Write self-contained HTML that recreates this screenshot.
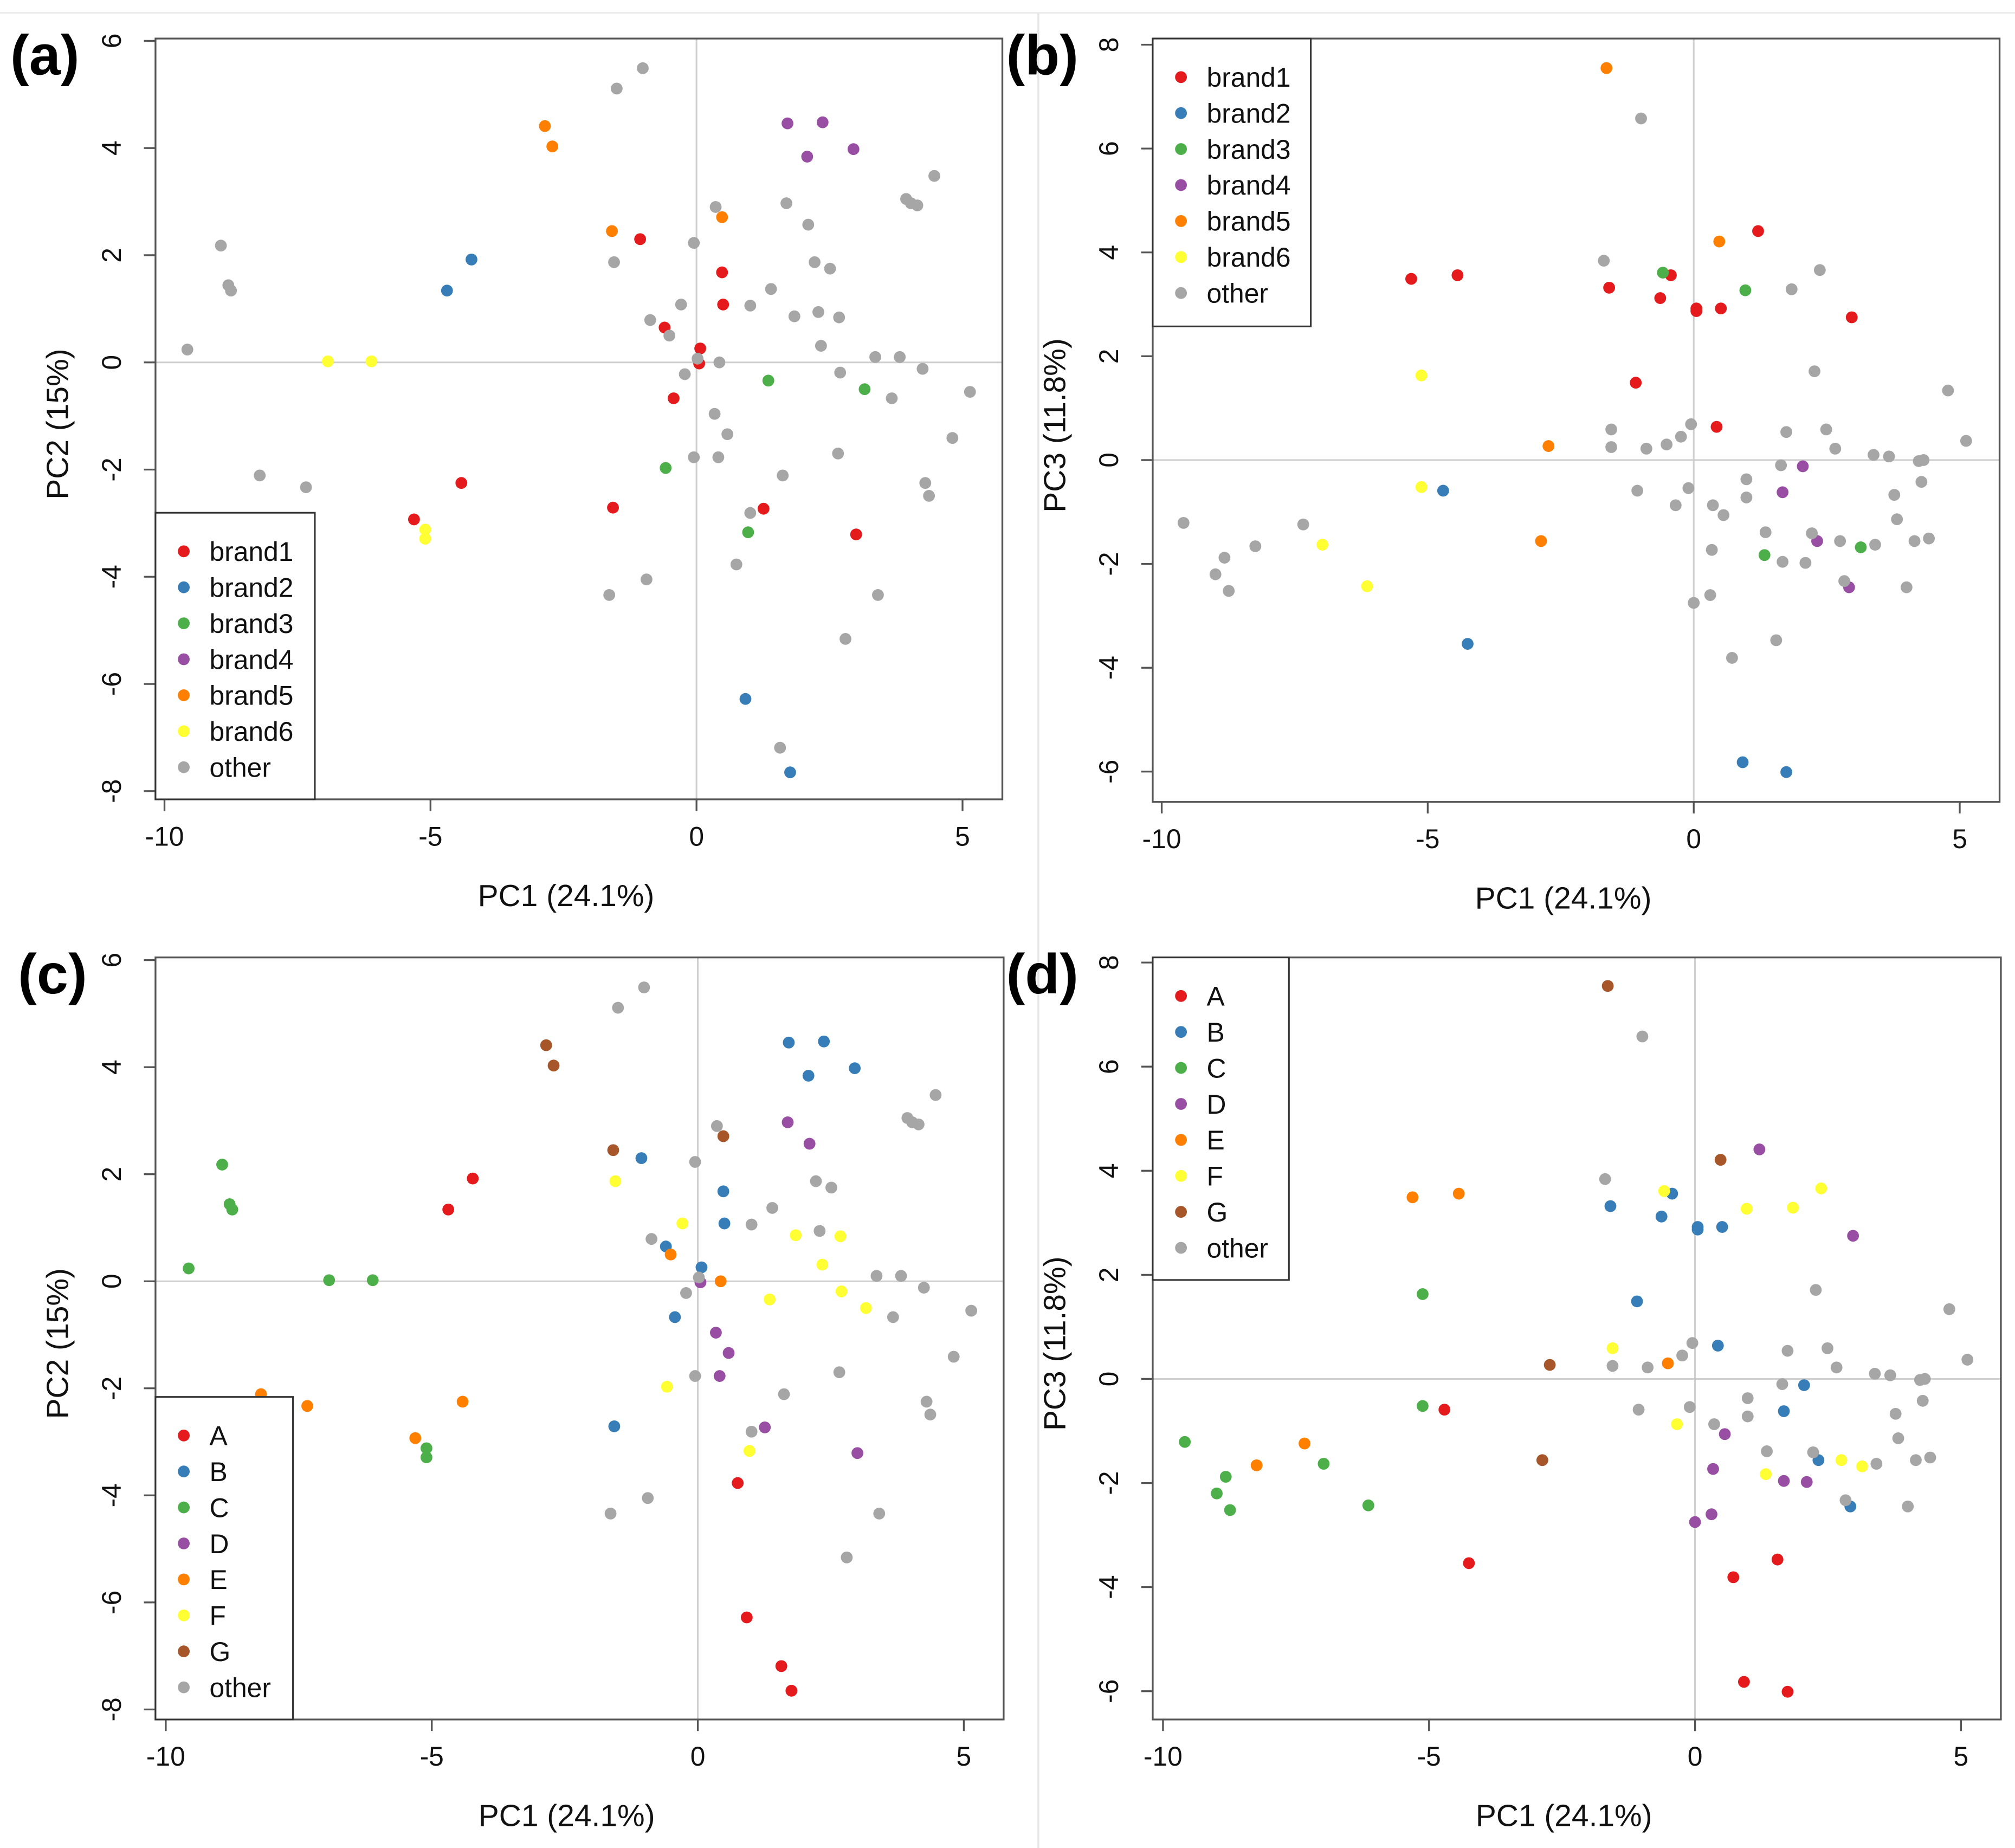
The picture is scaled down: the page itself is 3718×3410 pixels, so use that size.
<!DOCTYPE html>
<html><head><meta charset="utf-8">
<style>
html,body{margin:0;padding:0;background:#fff;}
svg{display:block;font-family:"Liberation Sans",Arial,sans-serif;}
</style></head>
<body>
<svg id="fig" width="3718" height="3410" viewBox="0 0 1568 1438" preserveAspectRatio="none" xmlns="http://www.w3.org/2000/svg">
<rect x="0" y="0" width="1568" height="1438" fill="#fff"/>
<line x1="0" y1="10" x2="1568" y2="10" stroke="#e6e6e6" stroke-width="1"/>
<line x1="808" y1="10" x2="808" y2="1438" stroke="#e6e6e6" stroke-width="1.5"/>
</svg>
<script>
// Panels (a)/(c): PC1 vs PC2 ; brand group and letter group per sample
const pc1A = [-0.6,0.07,0.48,0.5,-1.06,-0.43,-1.57,-4.42,-5.31,1.26,3.0,0.05,
 -4.69,-4.23,0.92,1.76, 1.35,3.16,-0.58,0.97, 1.71,2.37,2.08,2.95, -2.85,-2.71,-1.59,0.48,
 -6.93,-6.11,-5.1,-5.1,
 -9.57,-8.94,-8.8,-8.75,-8.21,-7.34,-1.5,-1.01,-1.55,-0.05,0.36,1.69,2.1,2.22,2.51,1.4,1.84,2.29,2.68,2.34,
 -0.29,-0.51,-0.87,1.01,0.02,0.43,-0.22,0.34,0.58,-0.05,0.41,1.62,2.66,2.7,3.36,3.82,3.67,4.25,3.94,4.03,4.15,4.47,
 5.14,4.81,4.3,4.37,1.01,0.75,-0.94,-1.64,3.41,2.8,1.57];
const pc2A = [0.65,0.26,1.68,1.08,2.3,-0.67,-2.71,-2.25,-2.93,-2.73,-3.21,-0.02,
 1.34,1.92,-6.28,-7.65, -0.34,-0.5,-1.97,-3.17, 4.46,4.48,3.84,3.98, 4.41,4.03,2.45,2.71,
 0.02,0.02,-3.12,-3.29,
 0.24,2.18,1.44,1.34,-2.11,-2.33,5.11,5.49,1.87,2.23,2.9,2.97,2.57,1.87,1.75,1.37,0.86,0.94,0.84,0.31,
 1.08,0.5,0.79,1.06,0.07,0,-0.22,-0.96,-1.34,-1.77,-1.77,-2.11,-1.7,-0.19,0.1,0.1,-0.67,-0.12,3.05,2.97,2.93,3.48,
 -0.55,-1.41,-2.25,-2.49,-2.81,-3.77,-4.05,-4.34,-4.34,-5.16,-7.19];
const brandA = ["brand1","brand1","brand1","brand1","brand1","brand1","brand1","brand1","brand1","brand1","brand1","brand1",
 "brand2","brand2","brand2","brand2","brand3","brand3","brand3","brand3","brand4","brand4","brand4","brand4",
 "brand5","brand5","brand5","brand5","brand6","brand6","brand6","brand6",
 "other","other","other","other","other","other","other","other","other","other","other","other","other","other","other","other","other","other","other","other",
 "other","other","other","other","other","other","other","other","other","other","other","other","other","other","other","other","other","other","other","other","other","other",
 "other","other","other","other","other","other","other","other","other","other","other"];
const letterA = ["B","B","B","B","B","B","B","E","E","D","D","D",
 "A","A","A","A","F","F","F","F","B","B","B","B","G","G","G","G","C","C","C","C",
 "C","C","C","C","E","E","other","other","F","other","other","D","D","other","other","other","F","other","F","F",
 "F","E","other","other","other","E","other","D","D","other","D","other","other","F","other","other","other","other","other","other","other","other",
 "other","other","other","other","other","A","other","other","other","other","A"];

// Panels (b)/(d): PC1 vs PC3
const pc1B = [-5.31,-4.44,-1.59,-0.63,-0.43,0.05,0.05,0.51,1.21,2.97,-1.09,0.43,
 -4.71,-4.25,0.92,1.74, -0.58,0.97,1.33,3.14, 1.67,2.32,2.92,2.05, -1.64,0.48,-2.73,-2.87,
 -5.12,-5.12,-6.98,-6.14,
 -0.99,-1.69,2.37,1.84,2.27,-1.55,-1.55,-0.89,-0.51,-0.05,-0.24,1.74,2.49,2.66,1.64,0.99,0.99,-0.1,-0.34,-1.06,0.36,0.56,0.34,
 1.35,2.22,1.67,2.1,0.31,0,0.72,1.55,2.75,2.83,3.41,3.82,3.77,3.38,3.67,4.23,4.32,4.28,4.15,4.42,4.0,4.78,5.12,
 -9.59,-8.82,-8.99,-8.74,-8.24,-7.34];
const pc3B = [3.49,3.56,3.32,3.12,3.56,2.92,2.87,2.92,4.41,2.75,1.49,0.64,
 -0.59,-3.54,-5.82,-6.01, 3.61,3.27,-1.83,-1.68, -0.62,-1.56,-2.45,-0.12, 7.55,4.21,0.27,-1.56,
 1.63,-0.52,-1.63,-2.43,
 6.58,3.84,3.66,3.29,1.71,0.59,0.25,0.22,0.3,0.69,0.45,0.54,0.59,0.22,-0.1,-0.37,-0.72,-0.54,-0.87,-0.59,-0.87,-1.06,-1.73,
 -1.39,-1.41,-1.96,-1.98,-2.6,-2.75,-3.81,-3.47,-1.56,-2.33,-1.63,-1.14,-0.67,0.1,0.07,-0.02,0,-0.42,-1.56,-1.51,-2.45,1.34,0.37,
 -1.21,-1.88,-2.2,-2.52,-1.66,-1.24];
const brandB = ["brand1","brand1","brand1","brand1","brand1","brand1","brand1","brand1","brand1","brand1","brand1","brand1",
 "brand2","brand2","brand2","brand2","brand3","brand3","brand3","brand3","brand4","brand4","brand4","brand4",
 "brand5","brand5","brand5","brand5","brand6","brand6","brand6","brand6",
 "other","other","other","other","other","other","other","other","other","other","other","other","other","other","other","other","other","other","other","other","other","other","other",
 "other","other","other","other","other","other","other","other","other","other","other","other","other","other","other","other","other","other","other","other","other","other","other",
 "other","other","other","other","other","other"];
const letterB = ["E","E","B","B","B","B","B","B","D","D","B","B",
 "A","A","A","A","F","F","F","F","B","B","B","B","G","G","G","G","C","C","C","C",
 "other","other","F","F","other","F","other","other","E","other","other","other","other","other","other","other","other","other","F","other","other","D","D",
 "other","other","D","D","D","D","A","A","F","other","other","other","other","other","other","other","other","other","other","other","other","other","other",
 "C","C","C","C","E","E"];

const brandKeys = ["brand1","brand2","brand3","brand4","brand5","brand6","other"];
const letterKeys = ["A","B","C","D","E","F","G","other"];
const xTicks = [-10,-5,0,5];
const yTicksA = [-8,-6,-4,-2,0,2,4,6];
const yTicksB = [-6,-4,-2,0,2,4,6,8];

const COL = {brand1:"#E41A1C",brand2:"#377EB8",brand3:"#4DAF4A",brand4:"#984EA3",brand5:"#FF7F00",brand6:"#FFFF33",
 A:"#E41A1C",B:"#377EB8",C:"#4DAF4A",D:"#984EA3",E:"#FF7F00",F:"#FFFF33",G:"#A65628",other:"#A6A6A6"};

const NS="http://www.w3.org/2000/svg";
const svg=document.getElementById('fig');
function el(tag,attrs,parent){const e=document.createElementNS(NS,tag);for(const k in attrs)e.setAttribute(k,attrs[k]);(parent||svg).appendChild(e);return e;}

function panel(cfg){
  const g=el('g',{});
  
  
  const sx=v=>cfg.x0+(v-0)*cfg.xs;
  const sy=v=>cfg.y0-v*cfg.ys;
  el('line',{x1:cfg.L,x2:cfg.R,y1:sy(0),y2:sy(0),stroke:'#cfcfcf','stroke-width':1.3},g);
  el('line',{x1:sx(0),x2:sx(0),y1:cfg.T,y2:cfg.B,stroke:'#cfcfcf','stroke-width':1.3},g);
  for(let i=0;i<cfg.px.length;i++){
    const c=el('circle',{cx:sx(cfg.px[i]),cy:sy(cfg.py[i]),r:4.6,fill:COL[cfg.grp[i]]},g);
    
    
  }
  const fr=el('rect',{x:cfg.L,y:cfg.T,width:cfg.R-cfg.L,height:cfg.B-cfg.T,fill:'none',stroke:'#555','stroke-width':1.4},g);
  
  
  xTicks.forEach(t=>{
    el('line',{x1:sx(t),x2:sx(t),y1:cfg.B,y2:cfg.B+9,stroke:'#555','stroke-width':1.4},g);
    const tx=el('text',{x:sx(t),y:cfg.B+36,'font-size':21,'text-anchor':'middle',fill:'#111'},g);
    tx.textContent=String(t);
    
    
  });
  cfg.yt.forEach(t=>{
    el('line',{x1:cfg.L-9,x2:cfg.L,y1:sy(t),y2:sy(t),stroke:'#555','stroke-width':1.4},g);
    const X=cfg.L-27;
    const tx=el('text',{x:X,y:sy(t),'font-size':21,'text-anchor':'middle',fill:'#111',transform:`rotate(-90 ${X} ${sy(t)})`},g);
    tx.textContent=String(t);
    
    
  });
  const xt=el('text',{x:(cfg.L+cfg.R)/2-10,y:cfg.B+83,'font-size':24,'text-anchor':'middle',fill:'#111'},g);
  xt.textContent='PC1 (24.1%)';
  
  
  const YX=cfg.L-68, YY=(cfg.T+cfg.B)/2+4;
  const yt=el('text',{x:YX,y:YY,'font-size':24,'text-anchor':'middle',fill:'#111',transform:`rotate(-90 ${YX} ${YY})`},g);
  yt.textContent=cfg.ytitle;
  
  
  const pl=el('text',{x:cfg.labX,y:cfg.T+28,'font-size':44,'font-weight':'bold',fill:'#000'},g);
  pl.textContent='('+cfg.id+')';
  
  
  const lg=el('g',{},g);
  
  
  el('rect',{x:cfg.lx,y:cfg.ly,width:cfg.lw,height:cfg.lh,fill:'#fff',stroke:'#333','stroke-width':1.3},lg);
  cfg.keys.forEach((k,i)=>{
    const yy=cfg.ly+30+i*28;
    const m=el('circle',{cx:cfg.lx+22,cy:yy,r:4.6,fill:COL[k]},lg);
    
    
    const t=el('text',{x:cfg.lx+42,y:yy+7.5,'font-size':21,fill:'#111'},lg);
    t.textContent=k;
    
    
  });
}

panel({id:'a',L:121,R:780,T:30,B:622,x0:542,xs:41.4,y0:282,ys:41.7,yt:yTicksA,px:pc1A,py:pc2A,grp:brandA,keys:brandKeys,
  ytitle:'PC2 (15%)',labX:8,lx:121,ly:399,lw:124,lh:223});
panel({id:'b',L:897,R:1556,T:30,B:624,x0:1318,xs:41.4,y0:358,ys:40.4,yt:yTicksB,px:pc1B,py:pc3B,grp:brandB,keys:brandKeys,
  ytitle:'PC3 (11.8%)',labX:783,lx:897,ly:30,lw:123,lh:224});
panel({id:'c',L:121,R:781,T:745,B:1338,x0:543,xs:41.4,y0:997,ys:41.65,yt:yTicksA,px:pc1A,py:pc2A,grp:letterA,keys:letterKeys,
  ytitle:'PC2 (15%)',labX:14,lx:121,ly:1087,lw:107,lh:251});
panel({id:'d',L:897,R:1557,T:745,B:1338,x0:1319,xs:41.4,y0:1073,ys:40.5,yt:yTicksB,px:pc1B,py:pc3B,grp:letterB,keys:letterKeys,
  ytitle:'PC3 (11.8%)',labX:783,lx:897,ly:745,lw:106,lh:251});
</script>
</body></html>
